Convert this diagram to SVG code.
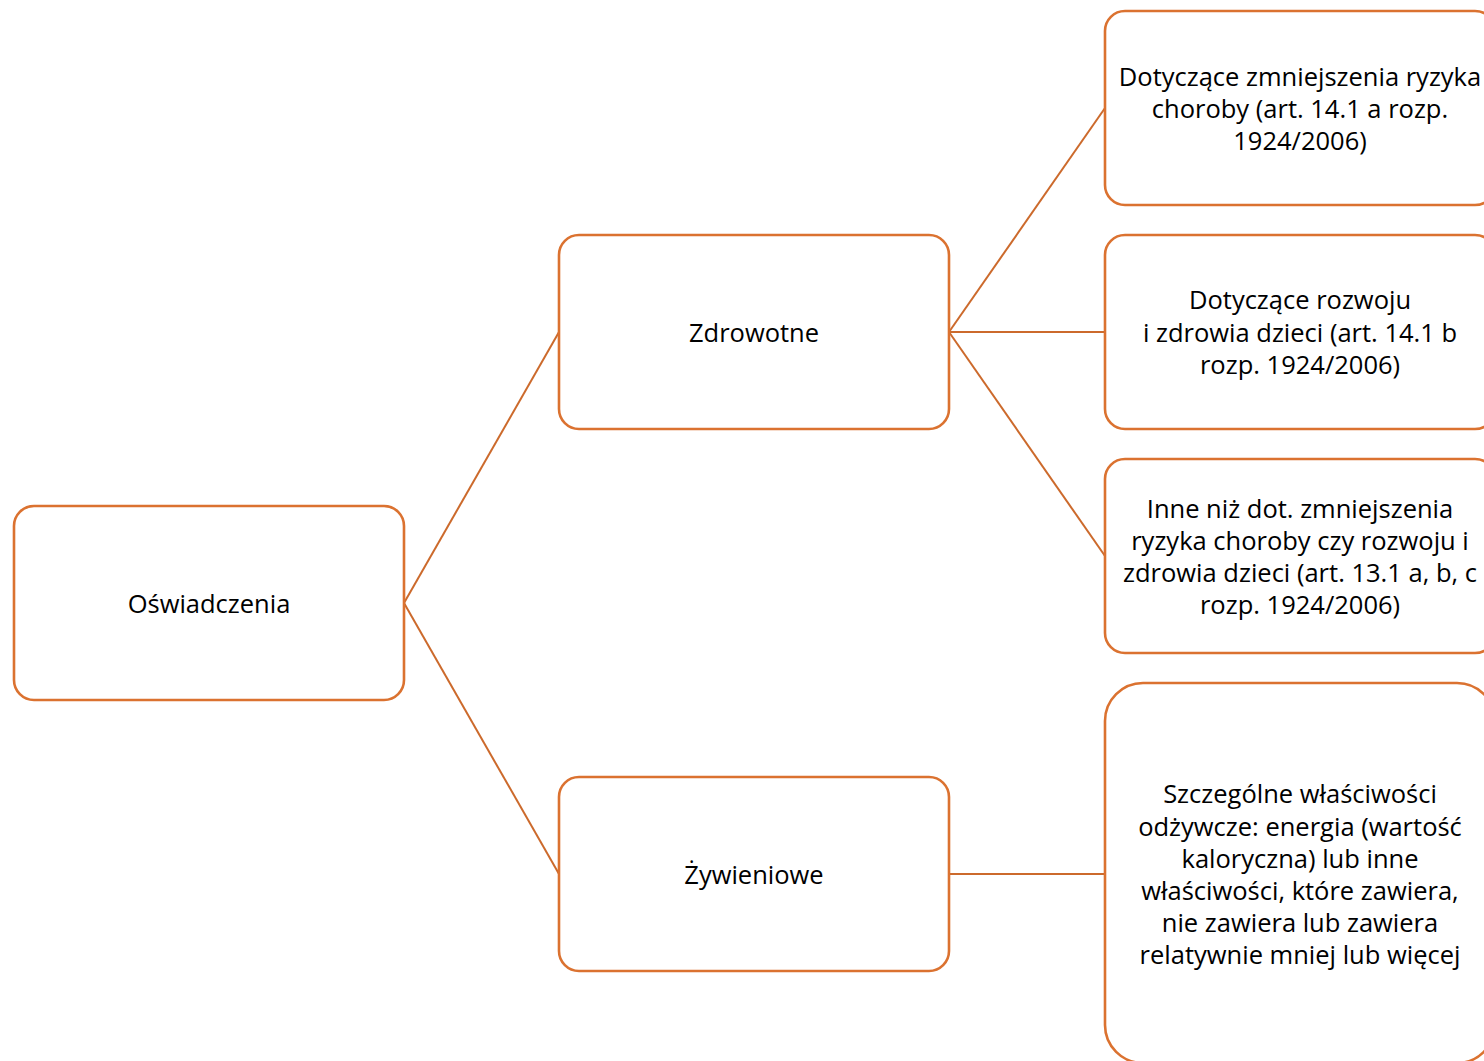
<svg xmlns="http://www.w3.org/2000/svg" width="1484" height="1061" viewBox="0 0 1484 1061">
<style>
.box{fill:#fff;stroke:#DB7230;stroke-width:2.6}
.con{stroke:#CC6A2C;stroke-width:2;fill:none}
text{font-family:"Open Sans","Noto Sans","DejaVu Sans",sans-serif;font-size:25.5px;fill:#000;text-anchor:middle;dominant-baseline:central}
</style>
<rect width="1484" height="1061" fill="#fff"/>
<g id="connectors">
<line class="con" x1="404" y1="603" x2="559" y2="332"/>
<line class="con" x1="404" y1="603" x2="559" y2="874"/>
<line class="con" x1="949" y1="332" x2="1105" y2="108"/>
<line class="con" x1="949" y1="332" x2="1105" y2="332"/>
<line class="con" x1="949" y1="332" x2="1105" y2="556"/>
<line class="con" x1="949" y1="874" x2="1105" y2="874"/>
</g>
<g id="oswiadczenia">
<rect class="box" x="14" y="506" width="390" height="194" rx="20"/>
<text x="209" y="603">Oświadczenia</text>
</g>
<g id="zdrowotne">
<rect class="box" x="559" y="235" width="390" height="194" rx="20"/>
<text x="754" y="332">Zdrowotne</text>
</g>
<g id="zywieniowe">
<rect class="box" x="559" y="777" width="390" height="194" rx="20"/>
<text x="754" y="874">Żywieniowe</text>
</g>
<g id="ryzyko">
<rect class="box" x="1105" y="11" width="390" height="194" rx="20"/>
<text x="1300" y="76">Dotyczące zmniejszenia ryzyka</text>
<text x="1300" y="108">choroby (art. 14.1 a rozp.</text>
<text x="1300" y="140">1924/2006)</text>
</g>
<g id="rozwoj">
<rect class="box" x="1105" y="235" width="390" height="194" rx="20"/>
<text x="1300" y="299">Dotyczące rozwoju</text>
<text x="1300" y="332">i zdrowia dzieci (art. 14.1 b</text>
<text x="1300" y="364">rozp. 1924/2006)</text>
</g>
<g id="inne">
<rect class="box" x="1105" y="459" width="390" height="194" rx="20"/>
<text x="1300" y="508">Inne niż dot. zmniejszenia</text>
<text x="1300" y="540">ryzyka choroby czy rozwoju i</text>
<text x="1300" y="572">zdrowia dzieci (art. 13.1 a, b, c</text>
<text x="1300" y="604">rozp. 1924/2006)</text>
</g>
<g id="szczegolne">
<rect class="box" x="1105" y="683" width="390" height="380" rx="38"/>
<text x="1300" y="793">Szczególne właściwości</text>
<text x="1300" y="826">odżywcze: energia (wartość</text>
<text x="1300" y="858">kaloryczna) lub inne</text>
<text x="1300" y="890">właściwości, które zawiera,</text>
<text x="1300" y="922">nie zawiera lub zawiera</text>
<text x="1300" y="954">relatywnie mniej lub więcej</text>
</g>
</svg>
